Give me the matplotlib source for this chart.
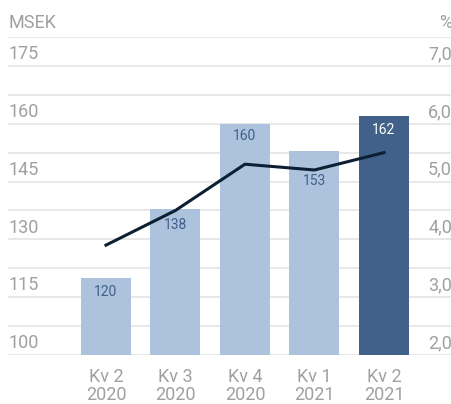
import numpy as np
import matplotlib
matplotlib.use("Agg")
import matplotlib.pyplot as plt
import matplotlib.transforms as mtransforms

plt.rcParams['font.family'] = ['Roboto', 'DejaVu Sans']

quarters = ["Kv 2\n2020", "Kv 3\n2020", "Kv 4\n2020", "Kv 1\n2021", "Kv 2\n2021"]
msek = [120, 138, 160, 153, 162]
pct = [3.9, 4.5, 5.3, 5.2, 5.5]
left_ticks = [100, 115, 130, 145, 160, 175]
right_ticks = [2.0, 3.0, 4.0, 5.0, 6.0, 7.0]

light = "#adc2dc"
dark = "#42618a"
gray = "#a0a0a0"
grid = "#e2e2e2"

fig = plt.figure(figsize=(4.52, 4.04), dpi=100)
ax = fig.add_axes([8/452, 49/404, 444/452, 318/404])
ax2 = ax.twinx()

x = np.arange(len(quarters))
cols = [light]*4 + [dark]
base = 100
ax.bar(x, np.array(msek) - base, bottom=base, width=0.72, color=cols, zorder=2)

ax.set_ylim(100, 182.5)
ax.set_xlim(-1.41, 4.98)
ax2.set_ylim(2.0, 7.5)

# gridlines every half step
for v in np.arange(100, 183, 7.5):
    ax.axhline(v, color=grid, lw=1.1, zorder=0)

def lifted(a, dy):
    return mtransforms.offset_copy(a.get_yaxis_transform(), fig=fig, x=0, y=dy, units='points')

# tick labels sit above their lines
for v in left_ticks:
    ax.text(0.0, v, str(v), transform=lifted(ax, 8.5), ha='left', va='center',
            fontsize=13, color=gray)
for v in right_ticks:
    ax2.text(1.0, v, ("%.1f" % v).replace(".", ","), transform=lifted(ax2, 8.5),
             ha='right', va='center', fontsize=13, color=gray)
ax.text(0.0, 182.5, "MSEK", transform=lifted(ax, 10), ha='left', va='center',
        fontsize=13, color=gray)
ax.text(1.0, 182.5, "%", transform=lifted(ax, 10), ha='right', va='center',
        fontsize=13, color=gray)

# value labels inside bars
drops = [10, 12, 9, 22, 10]
for i, v in enumerate(msek):
    tr = mtransforms.offset_copy(ax.transData, fig=fig, x=0, y=-drops[i], units='points')
    ax.text(i, v, str(v), transform=tr, ha='center', va='center', fontsize=10,
            color='white' if i == 4 else dark, zorder=4)

ax2.plot(x, pct, color="#0c1f33", lw=2.2, zorder=3)

ax.set_xticks(x)
ax.set_xticklabels(quarters, fontsize=13, color=gray, linespacing=1.0)
ax.tick_params(axis='x', length=0, pad=9)
ax.set_yticks([])
ax2.set_yticks([])
for a in (ax, ax2):
    for s in a.spines.values():
        s.set_visible(False)
ax.set_zorder(ax2.get_zorder() - 1)
ax2.patch.set_visible(False)

fig.savefig("out.png", dpi=100)
